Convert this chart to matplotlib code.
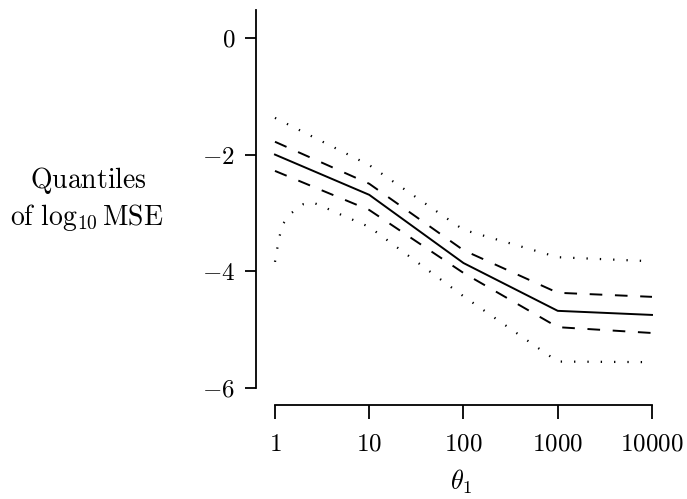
import numpy as np
import matplotlib.pyplot as plt

plt.rcParams['mathtext.fontset'] = 'cm'
plt.rcParams['font.family'] = 'serif'
plt.rcParams['font.serif'] = ['DejaVu Serif']

theta = [1, 10, 100, 1000, 10000]
median = [-2.0, -2.69, -3.86, -4.68, -4.75]
q_upper = [-1.78, -2.5, -3.64, -4.37, -4.44]
q_lower = [-2.28, -2.95, -4.03, -4.96, -5.06]
upper_dot = [-1.37, -2.18, -3.29, -3.76, -3.83]
theta_low = [1, 1.1, 1.2, 1.5, 2, 2.5, 3, 5, 10, 100, 1000, 10000]
lower_dot = [-3.84, -3.45, -3.2, -3.0, -2.85, -2.82, -2.87, -3.03, -3.24, -4.43, -5.55, -5.56]

fig = plt.figure(figsize=(6.87, 4.99), dpi=100)
ax = fig.add_axes([256/687, 1-405/499, (660-256)/687, (405-10)/499])

ax.plot(theta, median, color='black', lw=1.4)
ax.plot(theta, q_upper, color='black', lw=1.4, linestyle=(0, (6.5, 6.5)))
ax.plot(theta, q_lower, color='black', lw=1.4, linestyle=(0, (6.5, 6.5)))
ax.plot(theta, upper_dot, color='black', lw=1.6, linestyle=(0, (0.6, 5.4)))
ax.plot(theta_low, lower_dot, color='black', lw=1.6, linestyle=(0, (0.6, 5.4)))

ax.set_xscale('log')
ax.set_xlim(0.629, 12160)
ax.set_ylim(-6.295, 0.48)
ax.spines['top'].set_visible(False)
ax.spines['right'].set_visible(False)
ax.spines['left'].set_bounds(-6, 0.48)
ax.spines['bottom'].set_bounds(1, 10000)
for s in ['left', 'bottom']:
    ax.spines[s].set_linewidth(1.3)

ax.set_xticks(theta)
ax.set_xticklabels([r'$%d$' % t for t in theta], fontsize=18)
ax.minorticks_off()
ax.set_yticks([0, -2, -4, -6])
ax.set_yticklabels([r'$\mathbf{0}$', r'$-2$', r'$-4$', r'$-6$'], fontsize=18)
ax.tick_params(axis='x', direction='out', length=10, width=1.3, pad=10)
ax.tick_params(axis='y', direction='out', length=8, width=1.3, pad=7)

fig.text(88/687, 1-188/499, r'$\mathrm{Quantiles}$', ha='center', va='baseline', fontsize=20)
fig.text(87/687, 1-225/499, r'$\mathrm{of}\ \log_{10}\mathrm{MSE}$', ha='center', va='baseline', fontsize=20)
fig.text(461/687, 1-482/499, r'$\theta_1$', ha='center', va='center', fontsize=19)

fig.savefig('out.png', dpi=100)
